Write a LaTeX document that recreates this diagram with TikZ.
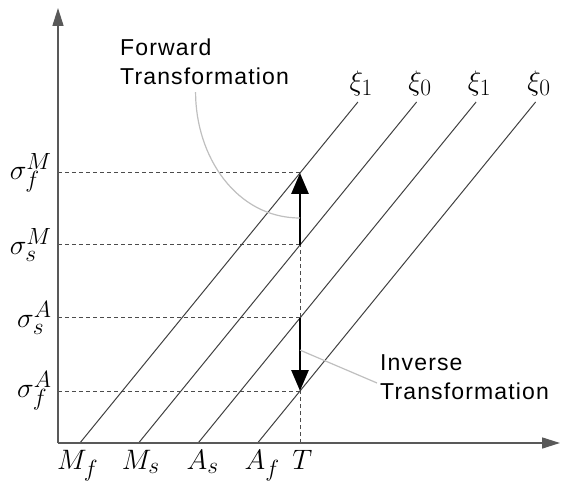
\documentclass[tikz,border=0pt]{standalone}
\usepackage{fontspec}
\newfontfamily\notefont[LetterSpace=5]{Liberation Sans}
\usetikzlibrary{positioning,arrows.meta,calc}

\begin{document}
\begin{tikzpicture}[x=1pt, y=1pt,
  axis/.style={draw=black!65, line width=1.6pt, -{Triangle[length=18pt,width=11pt]}},
  guide/.style={draw=black!70, line width=1pt, dash pattern=on 4pt off 3pt},
  phase/.style={draw=black!75, line width=1pt},
  trans/.style={line width=2.8pt, -{Triangle[length=21pt,width=17pt]}},
  callout/.style={draw=black!25, line width=1.2pt},
  lbl/.style={font=\fontsize{24.88}{30}\selectfont, inner sep=1pt, scale=1.13, transform shape},
  note/.style={font=\notefont\fontsize{23}{29}\selectfont, align=left, inner sep=0pt}]
  \useasboundingbox (-58,-39) rectangle (504,443);
  \coordinate (O) at (0,0);
  \coordinate (T) at (242,0);
  \coordinate (fM) at (0,270);
  \coordinate (sM) at (0,198);
  \coordinate (sA) at (0,125);
  \coordinate (fA) at (0,52);

  \draw[guide] (fM) -- (fM -| T);
  \draw[guide] (sM) -- (sM -| T);
  \draw[guide] (sA) -- (sA -| T);
  \draw[guide] (fA) -- (fA -| T);
  \draw[guide] (T) -- (sM -| T);

  \foreach \name/\x/\k in {Mf/21.9/1, Ms/80.6/0, As/140.1/1, Af/199.6/0} {
    \coordinate (\name) at (\x,0);
    \draw[phase] (\name) -- ++(278,341) coordinate (\name top);
    \node[lbl, above=5pt of \name top, xshift=3pt] (xi\name) {$\xi_\k$};
  }

  \draw[axis] (O) -- (0,435);
  \draw[axis] (O) -- (502,0);

  \draw[trans] (sM -| T) -- coordinate[pos=0.375] (fwdpt) (fM -| T);
  \draw[trans] (sA -| T) -- coordinate[pos=0.44] (invpt) (fA -| T);

  \node[lbl, left=5pt of fM] (lfM) {$\sigma_f^M$};
  \node[lbl, left=5pt of sM] (lsM) {$\sigma_s^M$};
  \node[lbl, left=5pt of sA] (lsA) {$\sigma_s^A$};
  \node[lbl, left=5pt of fA] (lfA) {$\sigma_f^A$};

  \node[lbl, below=6pt of Mf, xshift=-2pt] (lMf) {$M_f$};
  \node[lbl, below=6pt of Ms, xshift=2pt] (lMs) {$M_s$};
  \node[lbl, below=6pt of As, xshift=4pt] (lAs) {$A_s$};
  \node[lbl, below=6pt of Af, xshift=4pt] (lAf) {$A_f$};
  \node[lbl, below=6pt of T, xshift=2pt] (lT) {$T$};

  \node[note, anchor=west] (fwd) at (62,381) {Forward\\Transformation};
  \node[note, anchor=west] (inv) at (322,66) {Inverse\\Transformation};

  \draw[callout] ([xshift=-9pt,yshift=-7pt]fwd.south) to[out=-90, in=180] (fwdpt);
  \draw[callout] (invpt) -- ([xshift=-3pt,yshift=-6pt]inv.west);
\end{tikzpicture}
\end{document}
